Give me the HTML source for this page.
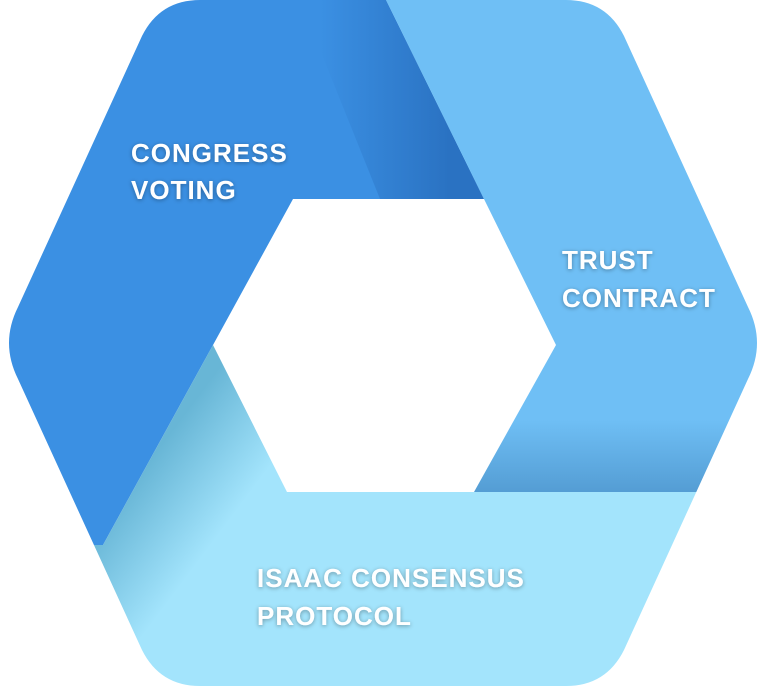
<!DOCTYPE html>
<html><head><meta charset="utf-8"><style>
html,body{margin:0;padding:0;background:#fff;width:766px;height:686px;overflow:hidden}
svg{display:block}
text{font-family:"Liberation Sans",sans-serif;font-weight:bold;font-size:26px;fill:#fff;letter-spacing:1px}
</style></head><body>
<svg width="766" height="686" viewBox="0 0 766 686">
<defs>
<clipPath id="hex"><path d="M200,0 L566,0 Q606,0 624,36 L748,307 Q766,343 748,379 L624,650 Q606,686 566,686 L200,686 Q160,686 142,650 L18,379 Q0,343 18,307 L142,36 Q160,0 200,0 Z"/></clipPath>
<linearGradient id="g1" x1="320" y1="0" x2="450" y2="0" gradientUnits="userSpaceOnUse">
<stop offset="0" stop-color="#3b90e3"/><stop offset="1" stop-color="#2a72c2"/></linearGradient>
<linearGradient id="g2" x1="0" y1="420" x2="0" y2="492" gradientUnits="userSpaceOnUse">
<stop offset="0" stop-color="#6fbff5"/><stop offset="1" stop-color="#549dd4"/></linearGradient>
<linearGradient id="g3" x1="150" y1="460" x2="230" y2="520" gradientUnits="userSpaceOnUse">
<stop offset="0" stop-color="#68b6d6"/><stop offset="1" stop-color="#a3e4fc"/></linearGradient>
<filter id="sh" x="-10%" y="-30%" width="120%" height="160%"><feDropShadow dx="0" dy="1" stdDeviation="2" flood-color="#000" flood-opacity="0.35"/></filter>
</defs>
<g clip-path="url(#hex)">
<polygon points="0,0 386,0 484,199 293,199 213,345 103,545 0,545" fill="#3b90e3"/>
<polygon points="300,0 386,0 484,199 380,199" fill="url(#g1)"/>
<polygon points="386,0 766,0 766,492 474,492 556,345 484,199" fill="url(#g2)"/>
<polygon points="213,345 287,492 766,492 766,686 0,686 0,545 103,545" fill="url(#g3)"/>
</g>
<g filter="url(#sh)">
<text x="131" y="162">CONGRESS</text>
<text x="131" y="199">VOTING</text>
<text x="562" y="269">TRUST</text>
<text x="562" y="307">CONTRACT</text>
<text x="257" y="587">ISAAC CONSENSUS</text>
<text x="257" y="625">PROTOCOL</text>
</g>
</svg>
</body></html>
